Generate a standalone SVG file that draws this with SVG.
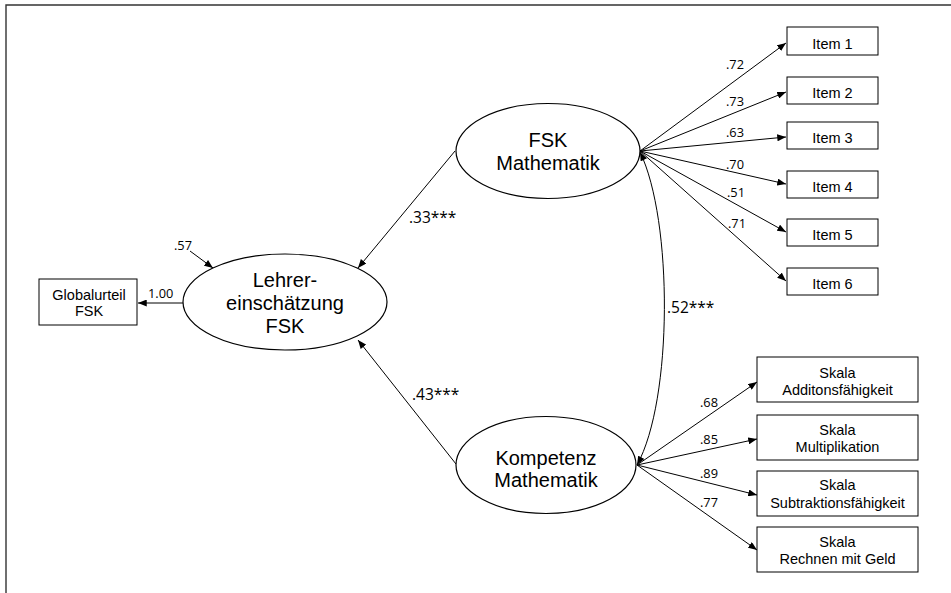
<svg xmlns="http://www.w3.org/2000/svg" width="951" height="593" viewBox="0 0 951 593">
<defs>
<marker id="ah" viewBox="0 0 10 8" refX="10" refY="4" markerWidth="9" markerHeight="7" markerUnits="userSpaceOnUse" orient="auto-start-reverse">
<path d="M0,0 L10,4 L0,8 Z" fill="#000"/>
</marker>
<style>
.frame{stroke:#333;stroke-width:1.4;fill:none}
.box{fill:#fff;stroke:#000;stroke-width:1}
.ell{fill:#fff;stroke:#000;stroke-width:1.2}
.con{stroke:#000;stroke-width:1;fill:none;marker-end:url(#ah)}
.big{font-family:"Liberation Sans",Arial,sans-serif;font-size:20px;text-anchor:middle;fill:#000}
.lab{font-family:"Liberation Sans",Arial,sans-serif;font-size:14.5px;text-anchor:middle;fill:#000}
.sm{font-family:"Open Sans","Liberation Sans",sans-serif;font-size:12.8px;fill:#000}
.md{font-family:"Open Sans","Liberation Sans",sans-serif;font-size:15.5px;fill:#000}
</style>
</defs>
<rect width="951" height="593" fill="#fff"/>
<path class="frame" d="M6,593 L6,5 L951,5"/>

<g id="connectors">
<line class="con" x1="640" y1="151" x2="786" y2="43"/>
<line class="con" x1="640" y1="151" x2="786" y2="92"/>
<line class="con" x1="640" y1="151" x2="786" y2="137"/>
<line class="con" x1="640" y1="151" x2="786" y2="184"/>
<line class="con" x1="640" y1="151" x2="786" y2="232"/>
<line class="con" x1="640" y1="151" x2="786" y2="281"/>
<line class="con" x1="637" y1="465" x2="757" y2="382"/>
<line class="con" x1="637" y1="465" x2="757" y2="439"/>
<line class="con" x1="637" y1="465" x2="757" y2="495"/>
<line class="con" x1="637" y1="465" x2="757" y2="550"/>
<line class="con" x1="183" y1="303" x2="138" y2="303"/>
<line class="con" x1="190" y1="251" x2="213" y2="268"/>
<line class="con" x1="455" y1="151" x2="358" y2="268"/>
<line class="con" x1="456" y1="464" x2="358" y2="340"/>
<path class="con" style="marker-start:url(#ah)" d="M640,152 C673,220 673,400 637,465"/>
</g>

<g id="labels">
<text class="sm" x="726" y="69">.72</text>
<text class="sm" x="726" y="106">.73</text>
<text class="sm" x="726" y="137">.63</text>
<text class="sm" x="726" y="169">.70</text>
<text class="sm" x="727" y="197">.51</text>
<text class="sm" x="728" y="228">.71</text>
<text class="sm" x="700" y="407">.68</text>
<text class="sm" x="700" y="444">.85</text>
<text class="sm" x="700" y="478">.89</text>
<text class="sm" x="700" y="507">.77</text>
<text class="sm" x="148" y="298">1.00</text>
<text class="sm" x="174" y="250">.57</text>
<text class="md" x="409" y="223">.33***</text>
<text class="md" x="412" y="400">.43***</text>
<text class="md" x="667" y="313">.52***</text>
</g>

<g id="node-fsk">
<ellipse class="ell" cx="548" cy="151" rx="92" ry="47.5"/>
<text class="big" x="548" y="147">FSK</text>
<text class="big" x="548" y="170">Mathematik</text>
</g>
<g id="node-kompetenz">
<ellipse class="ell" cx="546" cy="465" rx="90" ry="48.5"/>
<text class="big" x="546" y="465">Kompetenz</text>
<text class="big" x="546" y="487">Mathematik</text>
</g>
<g id="node-lehrer">
<ellipse class="ell" cx="285" cy="302" rx="102" ry="48"/>
<text class="big" x="285" y="287">Lehrer-</text>
<text class="big" x="285" y="310">einschätzung</text>
<text class="big" x="285" y="333">FSK</text>
</g>
<g id="node-global">
<rect class="box" x="39" y="279" width="98" height="46"/>
<text class="lab" x="89" y="300">Globalurteil</text>
<text class="lab" x="89" y="316">FSK</text>
</g>

<g id="node-item1"><rect class="box" x="787" y="27" width="91" height="28"/><text class="lab" x="832.5" y="49">Item 1</text></g>
<g id="node-item2"><rect class="box" x="787" y="77" width="91" height="27"/><text class="lab" x="832.5" y="97.5">Item 2</text></g>
<g id="node-item3"><rect class="box" x="787" y="122" width="91" height="27"/><text class="lab" x="832.5" y="143">Item 3</text></g>
<g id="node-item4"><rect class="box" x="787" y="171" width="91" height="27"/><text class="lab" x="832.5" y="191.5">Item 4</text></g>
<g id="node-item5"><rect class="box" x="787" y="219" width="91" height="27"/><text class="lab" x="832.5" y="240">Item 5</text></g>
<g id="node-item6"><rect class="box" x="787" y="268" width="91" height="27"/><text class="lab" x="832.5" y="289">Item 6</text></g>

<g id="node-skala1"><rect class="box" x="757" y="357" width="161" height="45"/><text class="lab" x="837.5" y="378">Skala</text><text class="lab" x="837.5" y="395">Additonsfähigkeit</text></g>
<g id="node-skala2"><rect class="box" x="757" y="415" width="161" height="45"/><text class="lab" x="837.5" y="435">Skala</text><text class="lab" x="837.5" y="452">Multiplikation</text></g>
<g id="node-skala3"><rect class="box" x="757" y="471" width="161" height="45"/><text class="lab" x="837.5" y="490">Skala</text><text class="lab" x="837.5" y="508">Subtraktionsfähigkeit</text></g>
<g id="node-skala4"><rect class="box" x="757" y="527" width="161" height="45"/><text class="lab" x="837.5" y="547">Skala</text><text class="lab" x="837.5" y="564">Rechnen mit Geld</text></g>
</svg>
